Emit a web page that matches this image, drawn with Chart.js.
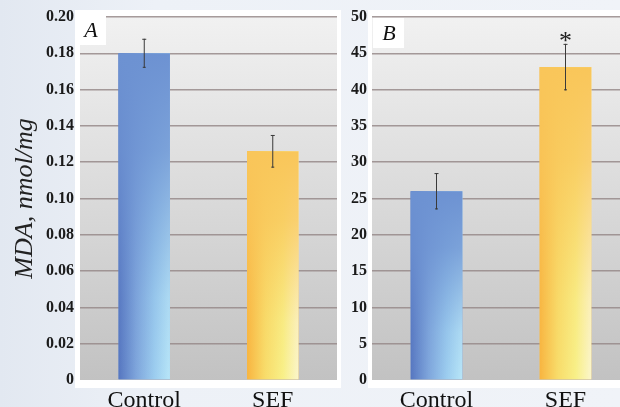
<!DOCTYPE html>
<html>
<head>
<meta charset="utf-8">
<script src="https://cdn.jsdelivr.net/npm/chart.js@4.4.1/dist/chart.umd.min.js"></script>
<style>
  html, body { margin: 0; padding: 0; }
  body {
    width: 620px; height: 407px; overflow: hidden; position: relative;
    background: linear-gradient(90deg, #e2e8f1 0%, #edf1f7 25%, #f0f3f8 100%);
  }
  #panneauA, #panneauB { position: absolute; top: 0; }
  #panneauA { left: 0; }
  #panneauB { left: 345px; }
</style>
</head>
<body>
<canvas id="panneauA" width="345" height="407"></canvas>
<canvas id="panneauB" width="290" height="407"></canvas>
<script>
// ==========================================================
// DONNÉES
// ==========================================================
const categories = ["Control", "SEF"];

// Panneau A : MDA (nmol/mg)
const valeursA = [0.180, 0.126];
const erreursA = [0.008, 0.009];
const ticksA = [0, 0.02, 0.04, 0.06, 0.08, 0.10, 0.12, 0.14, 0.16, 0.18, 0.20];

// Panneau B
const valeursB = [26.0, 43.1];
const erreursB = [2.5, 3.2];
const ticksB = [0, 5, 10, 15, 20, 25, 30, 35, 40, 45, 50];
const significatifB = [false, true];

const POLICE = "'Liberation Serif', 'Times New Roman', serif";

// ==========================================================
// COULEURS DES BARRES (dégradé horizontal + voile vertical)
// ==========================================================
const couleursBas = [
  ["#5676c0", "#7fa6dc", "#9ccdef", "#b8e6f8"],
  ["#f8b440", "#f8dc6a", "#f8f088", "#fbf6cc"]
];
const couleursHaut = ["#6d92d2", "#f9c65a"];

// ==========================================================
// PLUGINS
// ==========================================================
const fondPlugin = {
  id: "fond",
  beforeDraw(chart, args, opts) {
    const { ctx, chartArea: a } = chart;
    ctx.save();
    ctx.fillStyle = "#ffffff";
    ctx.fillRect(a.left - opts.cadre[0], a.top - 7, a.width + opts.cadre[0] + opts.cadre[1], a.height + 15);
    const g = ctx.createLinearGradient(0, a.top, 0, a.bottom);
    g.addColorStop(0, "#f1f1f1");
    g.addColorStop(0.5, "#dadada");
    g.addColorStop(1, "#c2c2c2");
    ctx.fillStyle = g;
    ctx.fillRect(a.left, a.top, a.width, a.height);
    ctx.restore();
  }
};

const decorPlugin = {
  id: "decor",
  afterDatasetsDraw(chart, args, opts) {
    const { ctx } = chart;
    const y = chart.scales.y;
    const meta = chart.getDatasetMeta(0);
    ctx.save();
    meta.data.forEach((bar, i) => {
      const gauche = bar.x - bar.width / 2;
      const h = bar.base - bar.y;
      // dégradé horizontal (aspect du bas de la barre)
      const c = couleursBas[i];
      const g = ctx.createLinearGradient(gauche, 0, gauche + bar.width, 0);
      g.addColorStop(0, c[0]);
      g.addColorStop(0.35, c[1]);
      g.addColorStop(0.7, c[2]);
      g.addColorStop(1, c[3]);
      ctx.fillStyle = g;
      ctx.fillRect(gauche, bar.y, bar.width, h);

      // voile vertical : couleur pleine en haut, s'estompe vers le bas
      const v = ctx.createLinearGradient(0, bar.y, 0, bar.base);
      v.addColorStop(0, couleursHaut[i]);
      v.addColorStop(0.3, couleursHaut[i] + "cc");
      v.addColorStop(0.75, couleursHaut[i] + "22");
      v.addColorStop(1, couleursHaut[i] + "00");
      ctx.fillStyle = v;
      ctx.fillRect(gauche, bar.y, bar.width, h);

      // barre d'erreur
      const haut = y.getPixelForValue(opts.valeurs[i] + opts.erreurs[i]);
      const bas = y.getPixelForValue(opts.valeurs[i] - opts.erreurs[i]);
      ctx.strokeStyle = "#3a3a3a";
      ctx.lineWidth = 1;
      ctx.beginPath();
      ctx.moveTo(bar.x, haut);
      ctx.lineTo(bar.x, bas);
      ctx.moveTo(bar.x - 2, haut + 0.5);
      ctx.lineTo(bar.x + 2, haut + 0.5);
      ctx.moveTo(bar.x - 1.5, bas - 0.5);
      ctx.lineTo(bar.x + 1.5, bas - 0.5);
      ctx.stroke();

      if (opts.etoiles && opts.etoiles[i]) {
        ctx.fillStyle = "#222";
        ctx.font = "26px " + POLICE;
        ctx.textAlign = "center";
        ctx.textBaseline = "middle";
        ctx.fillText("*", bar.x, haut - 2);
      }
    });

    // étiquette du panneau (A / B)
    const a = chart.chartArea;
    const bx = a.left + opts.boite[0];
    ctx.fillStyle = "#ffffff";
    ctx.fillRect(bx, opts.boite[1], 31, 30);
    ctx.fillStyle = "#111";
    ctx.font = "italic 22px " + POLICE;
    ctx.textAlign = "center";
    ctx.textBaseline = "middle";
    ctx.fillText(opts.lettre, bx + 16, opts.boite[1] + 16);
    ctx.restore();
  }
};

// ==========================================================
// CONSTRUCTION D'UN PANNEAU
// ==========================================================
function creerPanneau(id, valeurs, erreurs, ticks, cfg) {
  const maxY = ticks[ticks.length - 1];
  const pas = ticks[1] - ticks[0];
  return new Chart(document.getElementById(id).getContext("2d"), {
    type: "bar",
    data: {
      labels: categories,
      datasets: [{
        data: valeurs,
        backgroundColor: couleursHaut,
        borderWidth: 0,
        barPercentage: 1,
        categoryPercentage: 0.4
      }]
    },
    options: {
      responsive: false,
      animation: false,
      devicePixelRatio: 1,
      layout: { padding: { top: 17, right: cfg.droite, left: 0, bottom: 0 } },
      plugins: {
        legend: { display: false },
        tooltip: { enabled: false },
        fond: { cadre: cfg.cadre },
        decor: { valeurs: valeurs, erreurs: erreurs, etoiles: cfg.etoiles, lettre: cfg.lettre, boite: cfg.boite }
      },
      scales: {
        x: {
          grid: { display: false },
          border: { display: false },
          ticks: { color: "#111", font: { family: POLICE, size: 24 }, padding: -2 },
          afterFit: s => { s.height = 27; }
        },
        y: {
          min: 0,
          max: maxY,
          afterBuildTicks: s => { s.ticks = ticks.map(v => ({ value: v })); },
          grid: {
            drawTicks: false,
            lineWidth: 1.5,
            color: c => (c.tick && c.tick.value === 0 ? "rgba(0,0,0,0)" : "rgba(150,138,138,0.85)")
          },
          border: { display: false },
          ticks: {
            stepSize: pas,
            padding: cfg.padTicks,
            color: "#1a1a1a",
            font: { family: POLICE, size: 16, weight: "bold" },
            callback: v => (v === 0 ? "0" : (pas < 1 ? v.toFixed(2) : String(v)))
          },
          title: cfg.titre
            ? { display: true, text: "MDA, nmol/mg", color: "#222", font: { family: POLICE, size: 26, style: "italic" }, padding: { top: 10 } }
            : { display: false },
          afterFit: s => { s.width = cfg.largeurY; }
        }
      }
    },
    plugins: [fondPlugin, decorPlugin]
  });
}

creerPanneau("panneauA", valeursA, erreursA, ticksA, {
  droite: 8, largeurY: 80, padTicks: 6, titre: true,
  cadre: [5, 4], lettre: "A", boite: [-5, 15], etoiles: null
});

creerPanneau("panneauB", valeursB, erreursB, ticksB, {
  droite: 5, largeurY: 27, padTicks: 5, titre: false,
  cadre: [4, 4], lettre: "B", boite: [1, 18], etoiles: significatifB
});
</script>
</body>
</html>
